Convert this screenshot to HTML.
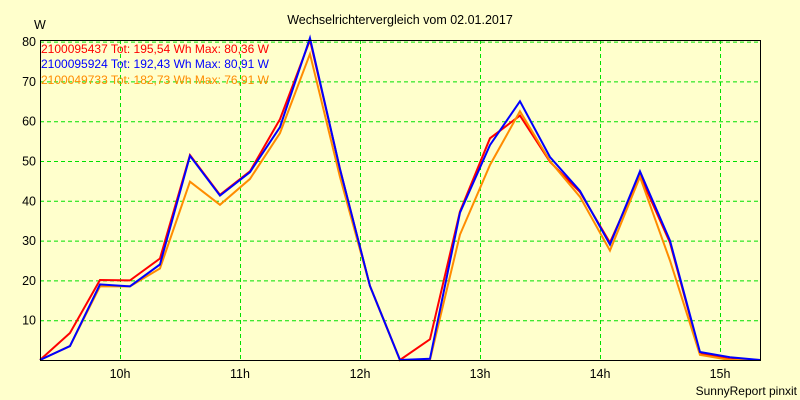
<!DOCTYPE html>
<html><head><meta charset="utf-8"><style>
body{margin:0;background:#ffffcc;}
svg{display:block;font-family:"Liberation Sans",sans-serif;}
</style></head><body>
<svg id="chart" width="800" height="400" viewBox="0 0 800 400">
<rect x="0" y="0" width="800" height="400" fill="#ffffcc"/>
<text x="400" y="24" font-size="12.5" text-anchor="middle" fill="#000">Wechselrichtervergleich vom 02.01.2017</text>
<text x="34" y="29" font-size="12.5" fill="#000">W</text>
<g id="grid"></g>
<g id="series"></g>
<rect x="40.5" y="40.5" width="720" height="320" fill="none" stroke="#000" stroke-width="1"/>
<g id="labels"></g>
<text x="41" y="53" font-size="12" fill="#ff0000">2100095437 Tot: 195,54 Wh Max: 80,36 W</text>
<text x="41" y="68" font-size="12" fill="#0000ff">2100095924 Tot: 192,43 Wh Max: 80,91 W</text>
<text x="41" y="84" font-size="12" fill="#ff8c00">2100049733 Tot: 182,73 Wh Max: 76,91 W</text>
<text x="797" y="395" font-size="12" text-anchor="end" fill="#000">SunnyReport pinxit</text>
</svg>
<script>
const times = [9.333,9.583,9.833,10.083,10.333,10.583,10.833,11.083,11.333,11.583,11.833,12.083,12.333,12.583,12.833,13.083,13.333,13.583,13.833,14.083,14.333,14.583,14.833,15.083,15.333];
const seriesRed = [0,6.8,20.1,20,25.5,51.5,41.5,47.4,60.5,80.4,48,18.6,0,5.2,37.3,55.7,61.4,49.8,42.2,29.5,46.4,29.5,1.7,0.2,0];
const seriesBlue = [0,3.5,19,18.5,24,51.3,41.3,47.2,58.5,80.9,48,18.6,0,0.3,37,54,65,51,42.5,29,47.4,30,2,0.7,0];
const seriesOrange = [0,3.5,18.5,18.5,23,44.8,39,45.5,57,76.9,46,18.6,0,0,31.5,49,62.5,50,41,27.5,46,25,1.3,0,0];
const yTicks = [10,20,30,40,50,60,70,80];
const xTicks = [10,11,12,13,14,15];
const xTickLabels = ["10h","11h","12h","13h","14h","15h"];
const NS="http://www.w3.org/2000/svg";
function xs(h){return 40+(h-9.3333)*120;}
function ys(v){return 360-v*3.98;}
const grid=document.getElementById('grid'), labels=document.getElementById('labels'), ser=document.getElementById('series');
yTicks.forEach(v=>{
  const l=document.createElementNS(NS,'line');
  
  
  l.setAttribute('x1',40);l.setAttribute('x2',760);l.setAttribute('y1',ys(v)+0.5);l.setAttribute('y2',ys(v)+0.5);
  l.setAttribute('stroke','#00e000');l.setAttribute('stroke-dasharray','4,3');
  grid.appendChild(l);
  const t=document.createElementNS(NS,'text');
  
  
  t.setAttribute('x',36);t.setAttribute('y',ys(v)+4.5);t.setAttribute('font-size','12.5');t.setAttribute('text-anchor','end');
  t.textContent=v;labels.appendChild(t);
});
xTicks.forEach((h,i)=>{
  const l=document.createElementNS(NS,'line');
  
  
  l.setAttribute('x1',xs(h)+0.5);l.setAttribute('x2',xs(h)+0.5);l.setAttribute('y1',40);l.setAttribute('y2',360);
  l.setAttribute('stroke','#00e000');l.setAttribute('stroke-dasharray','4,3');
  grid.appendChild(l);
  const t=document.createElementNS(NS,'text');
  
  
  t.setAttribute('x',xs(h));t.setAttribute('y',378);t.setAttribute('font-size','12.5');t.setAttribute('text-anchor','middle');
  t.textContent=xTickLabels[i];labels.appendChild(t);
});
[[seriesRed,'#ff0000','series-red-line'],[seriesOrange,'#ff8c00','series-orange-line'],[seriesBlue,'#0000ff','series-blue-line']].forEach(([d,c,n])=>{
  const p=document.createElementNS(NS,'polyline');
  
  
  p.setAttribute('points',d.map((v,i)=>xs(times[i])+','+ys(v)).join(' '));
  p.setAttribute('fill','none');p.setAttribute('stroke',c);p.setAttribute('stroke-width','2');
  ser.appendChild(p);
});
</script>
</body></html>
